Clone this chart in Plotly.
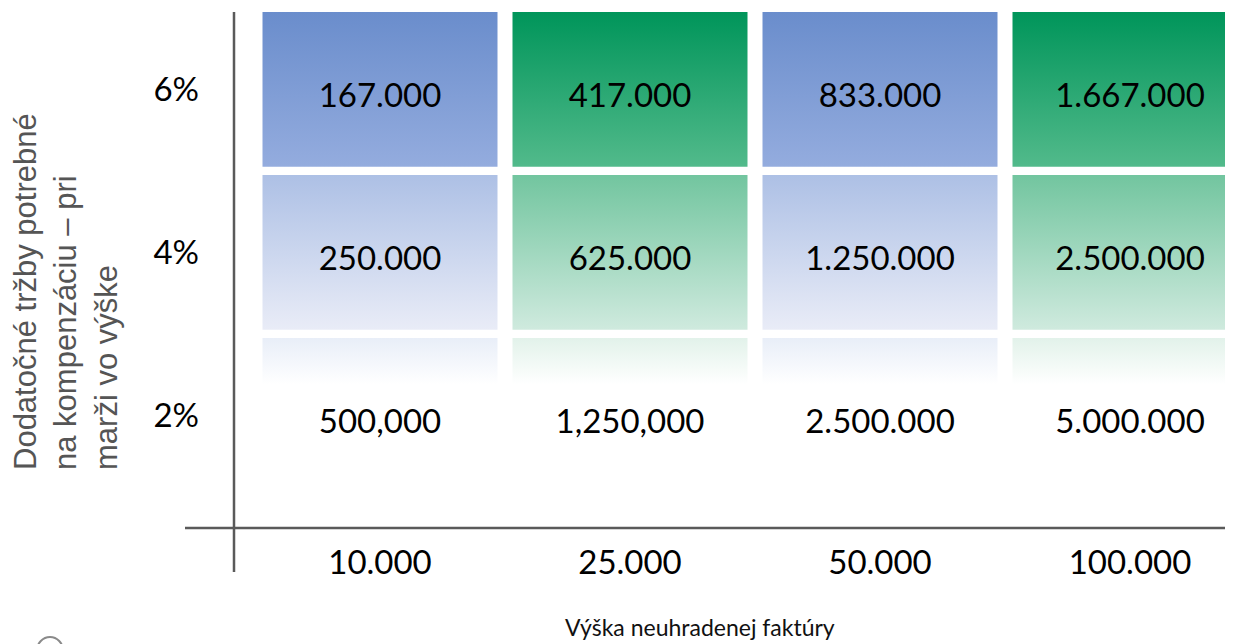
import plotly.graph_objects as go

# ---- data -------------------------------------------------------------
margin_rates = ["2%", "4%", "6%"]                      # y categories (bottom -> top)
invoice_amounts = ["10.000", "25.000", "50.000", "100.000"]  # x categories
revenue_2 = ["500,000", "1,250,000", "2.500.000", "5.000.000"]
revenue_4 = ["250.000", "625.000", "1.250.000", "2.500.000"]
revenue_6 = ["167.000", "417.000", "833.000", "1.667.000"]
revenue_rows = [revenue_2, revenue_4, revenue_6]

x_title = "Výška neuhradenej faktúry"
y_title = "Dodatočné tržby potrebné<br>na kompenzáciu – pri<br>marži vo výške"

# ---- styles -----------------------------------------------------------
# (bottom colour, top colour, fraction where the tint starts) per row
BLUE_ROWS = [("#ffffff", "#e8eef8", 0.70), ("#e9ecf7", "#adc0e5", 0.0), ("#94acde", "#6a8dcc", 0.0)]
GREEN_ROWS = [("#ffffff", "#e2f2ea", 0.70), ("#cfeade", "#72c59f", 0.0), ("#52ba8b", "#00955a", 0.0)]
HALF_W = 0.47
HALF_H = 0.475
LABEL_DY = -0.06
NUM_FONT = dict(family="Lato, 'Open Sans', sans-serif", size=33, color="#000000")

fig = go.Figure()

for r, rate in enumerate(margin_rates):
    for c, inv in enumerate(invoice_amounts):
        bottom, top, tint_from = (BLUE_ROWS if c % 2 == 0 else GREEN_ROWS)[r]
        x0, x1 = c - HALF_W, c + HALF_W
        y0, y1 = r - HALF_H, r + HALF_H
        if tint_from > 0:
            cs = [[0, bottom], [tint_from, bottom], [1, top]]
        else:
            cs = [[0, bottom], [1, top]]
        fig.add_trace(go.Scatter(
            x=[x0, x1, x1, x0, x0], y=[y0, y0, y1, y1, y0],
            mode="lines", fill="toself", line=dict(width=0, color="rgba(0,0,0,0)"),
            fillgradient=dict(type="vertical", colorscale=cs, start=y0, stop=y1),
            hoverinfo="skip", showlegend=False,
        ))

# value labels
tx, ty, tt = [], [], []
for r, row in enumerate(revenue_rows):
    for c, label in enumerate(row):
        tx.append(c)
        ty.append(r + LABEL_DY)
        tt.append(label)
fig.add_trace(go.Scatter(x=tx, y=ty, text=tt, mode="text", textfont=NUM_FONT,
                         textposition="middle center", hoverinfo="skip", showlegend=False))

# ---- layout -----------------------------------------------------------
OFF = 8                      # page body margin in the browser
W, H = 1233 - OFF, 644 - OFF
L, R, T = 234 - OFF, 0, 12 - OFF
B = H - (528 - OFF)
pw, ph = W - L - R, H - T - B

def px_x(p):
    return (p - OFF - L) / pw

def px_y(p):
    return (H - B - (p - OFF)) / ph

fig.update_layout(
    width=W, height=H,
    margin=dict(l=L, r=R, t=T, b=B),
    paper_bgcolor="white", plot_bgcolor="white",
    xaxis=dict(range=[-0.584, 3.412], tickvals=list(range(len(invoice_amounts))),
               ticktext=invoice_amounts, showgrid=False, zeroline=False, showline=False,
               ticks="", tickfont=NUM_FONT, ticklabelstandoff=12, fixedrange=True),
    yaxis=dict(range=[-0.691, 2.475], tickvals=list(range(len(margin_rates))),
               ticktext=margin_rates, showgrid=False, zeroline=False, showline=False,
               ticks="", tickfont=NUM_FONT, ticklabelstandoff=34, fixedrange=True),
    shapes=[
        dict(type="line", xref="paper", yref="paper", x0=0, x1=0, y0=px_y(572), y1=1,
             line=dict(color="#5a5a5a", width=2.5)),
        dict(type="line", xref="paper", yref="paper", x0=px_x(185), x1=1, y0=0, y1=0,
             line=dict(color="#5a5a5a", width=2.5)),
        dict(type="circle", xref="paper", yref="paper", x0=px_x(37), x1=px_x(63),
             y0=px_y(664), y1=px_y(637), line=dict(color="#8a8a8a", width=2)),
    ],
    annotations=[
        dict(text=y_title, textangle=-90, align="left", showarrow=False,
             xref="paper", yref="paper", x=px_x(66), y=px_y(292),
             xanchor="center", yanchor="middle",
             font=dict(family="'Liberation Sans', Arial, sans-serif", size=31, color="#555555")),
        dict(text=x_title, showarrow=False, xref="paper", yref="paper",
             x=px_x(700), y=px_y(627), xanchor="center", yanchor="middle",
             font=dict(family="Lato, 'Open Sans', sans-serif", size=23, color="#111111")),
    ],
    hovermode=False,
)

fig.write_html("out.html", config={"displayModeBar": False})
